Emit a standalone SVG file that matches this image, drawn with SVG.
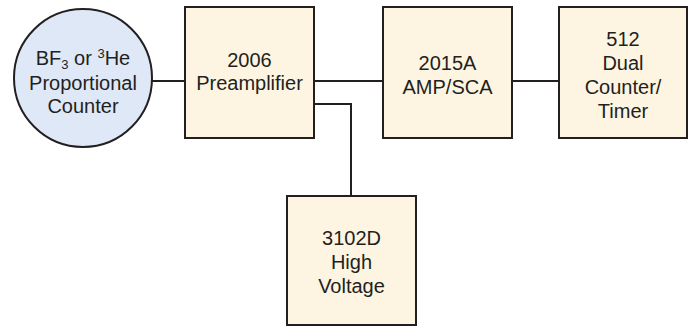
<svg xmlns="http://www.w3.org/2000/svg" width="691" height="327" viewBox="0 0 691 327">
<style>
.box{fill:#fdf5e2;stroke:#231f20;stroke-width:2}
.circ{fill:#dfe8f6;stroke:#231f20;stroke-width:2}
.wire{fill:none;stroke:#231f20;stroke-width:2}
text{font-family:"Liberation Sans",Arial,sans-serif;font-size:20px;fill:#231f20;text-anchor:middle}
.s{font-size:13px}
</style>
<rect width="691" height="327" fill="#ffffff"/>
<g id="connectors">
<line class="wire" x1="152" y1="81" x2="185" y2="81"/>
<line class="wire" x1="314" y1="81" x2="383" y2="81"/>
<line class="wire" x1="512" y1="81" x2="559" y2="81"/>
<polyline class="wire" points="314,104 351,104 351,196"/>
</g>
<g id="detector">
<circle class="circ" cx="83" cy="78" r="69"/>
<text x="83" y="65">BF<tspan class="s" dy="4">3</tspan><tspan dy="-4"> or </tspan><tspan class="s" dy="-7">3</tspan><tspan dy="7">He</tspan></text>
<text x="83" y="90">Proportional</text>
<text x="83" y="113">Counter</text>
</g>
<g id="preamp">
<rect class="box" x="185" y="7" width="129" height="131"/>
<text x="249.5" y="67">2006</text>
<text x="249.5" y="90">Preamplifier</text>
</g>
<g id="ampsca">
<rect class="box" x="383" y="7" width="129" height="131"/>
<text x="447.5" y="70">2015A</text>
<text x="447.5" y="94">AMP/SCA</text>
</g>
<g id="counter">
<rect class="box" x="559" y="7" width="128" height="131"/>
<text x="623" y="46">512</text>
<text x="623" y="70">Dual</text>
<text x="623" y="94">Counter/</text>
<text x="623" y="118">Timer</text>
</g>
<g id="hv">
<rect class="box" x="287" y="196" width="129" height="129"/>
<text x="351.5" y="245">3102D</text>
<text x="351.5" y="269">High</text>
<text x="351.5" y="293">Voltage</text>
</g>
</svg>
